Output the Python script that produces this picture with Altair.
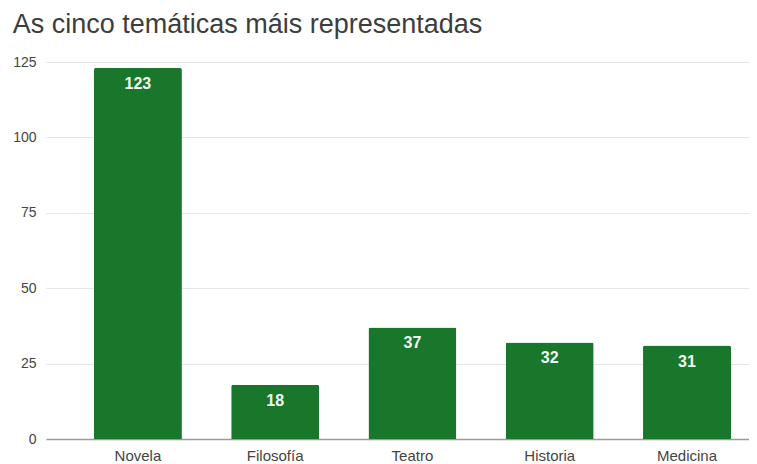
import altair as alt
import pandas as pd

categories = ["Novela", "Filosofía", "Teatro", "Historia", "Medicina"]
values = [123, 18, 37, 32, 31]
y_ticks = [0, 25, 50, 75, 100, 125]
title_text = "As cinco temáticas máis representadas"

df = pd.DataFrame({"tema": categories, "n": values})
FONT = "Liberation Sans"

x_enc = alt.X(
    "tema:N", sort=categories, title=None,
    scale=alt.Scale(paddingInner=0.359, paddingOuter=0.24, align=0.727),
    axis=alt.Axis(labelAngle=0, labelFont=FONT, labelFontSize=15, labelColor="#444444",
                  labelPadding=9, ticks=False, domainColor="#9a9a9a", domainWidth=1.5),
)
y_enc = alt.Y(
    "n:Q", title=None,
    scale=alt.Scale(domain=[0, 125], nice=False),
    axis=alt.Axis(values=y_ticks, ticks=False, domain=False, labelPadding=10,
                  labelFont=FONT, labelFontSize=14, labelColor="#444444",
                  gridColor="#e6e6e6", gridWidth=1),
)

bars = alt.Chart(df).mark_bar(
    color="#19772b", cornerRadiusTopLeft=2, cornerRadiusTopRight=2
).encode(x=x_enc, y=y_enc)

labels = alt.Chart(df).mark_text(
    color="#f2f7f2", fontWeight="bold", fontSize=16, font=FONT, baseline="top", dy=8
).encode(x=alt.X("tema:N", sort=categories), y=alt.Y("n:Q"), text="n:Q")

chart = (bars + labels).properties(
    width=703, height=377,
    title=alt.TitleParams(title_text, anchor="start", frame="bounds", offset=16,
                          font=FONT, fontSize=27, fontWeight="normal", color="#3d3d3d"),
    padding={"left": 4, "top": 3, "right": 0, "bottom": 0},
).configure_view(stroke=None)

chart.save("out.html", embed_options={"renderer": "svg", "actions": False})
